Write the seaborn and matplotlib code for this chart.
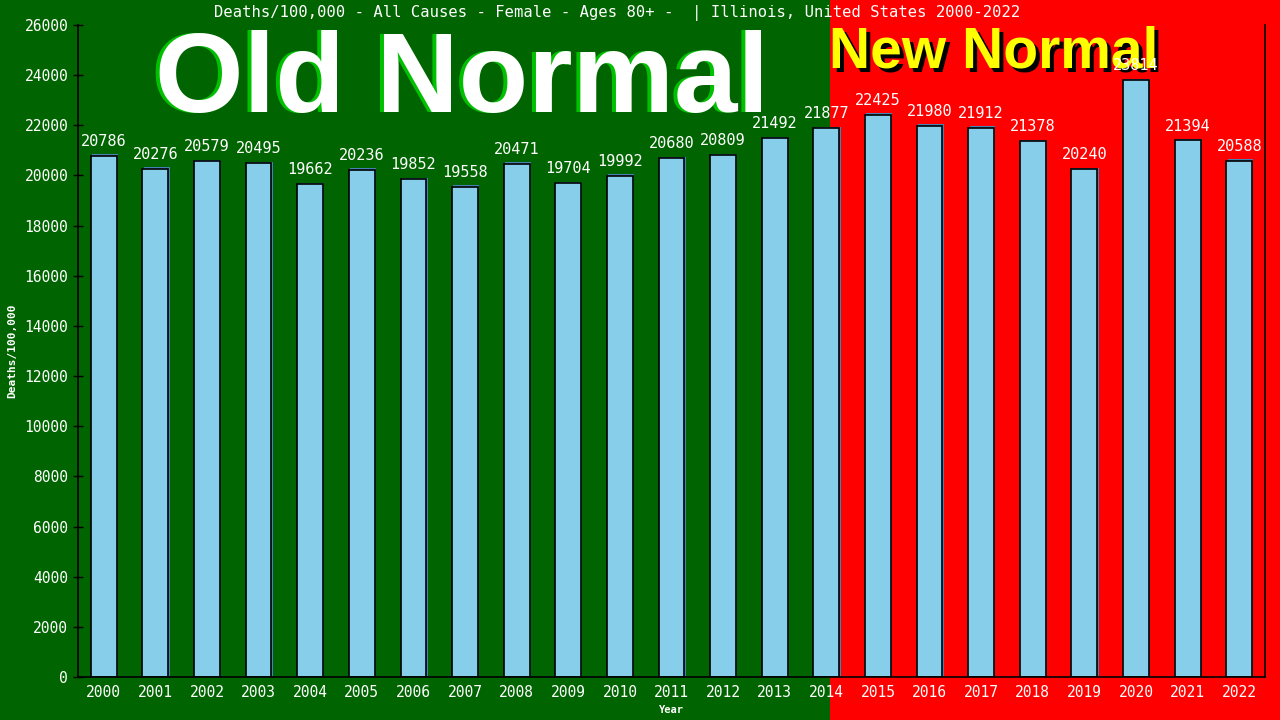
import pandas as pd
import matplotlib
matplotlib.use('Agg')
import matplotlib.pyplot as plt
import matplotlib.transforms as mtransforms
from matplotlib.patches import Rectangle
import seaborn as sns

# Chart data
years = [str(y) for y in range(2000, 2023)]
deaths = [20786, 20276, 20579, 20495, 19662, 20236, 19852, 19558, 20471, 19704,
          19992, 20680, 20809, 21492, 21877, 22425, 21980, 21912, 21378, 20240,
          23814, 21394, 20588]
y_ticks = list(range(0, 26001, 2000))

title = "Deaths/100,000 - All Causes - Female - Ages 80+ -  | Illinois, United States 2000-2022"

df = pd.DataFrame({'Year': years, 'Deaths': deaths})

sns.set_theme(style='white')
plt.rcParams['font.family'] = ['DejaVu Sans Mono']

GREEN = '#006400'
RED = '#ff0000'
BAR = '#87ceeb'

fig = plt.figure(figsize=(12.8, 7.2), dpi=100, facecolor=GREEN)
# red "new normal" background from the middle of 2014 to the right edge
fig.patches.append(Rectangle((0.6484, 0), 1 - 0.6484, 1, transform=fig.transFigure,
                             facecolor=RED, edgecolor='none', zorder=-10))

ax = fig.add_axes([0.0609, 0.0597, 0.9274, 0.9056])
ax.set_facecolor('none')

# thin blue shadow behind each bar, shifted 1px up-right
sns.barplot(data=df, x='Year', y='Deaths', color='#4682b4', width=0.5,
            saturation=1, edgecolor='none', ax=ax)
shift = mtransforms.offset_copy(ax.transData, fig=fig, x=1.3, y=1.3, units='dots')
for p in ax.patches:
    p.set_transform(shift)

sns.barplot(data=df, x='Year', y='Deaths', color=BAR, width=0.5,
            saturation=1, edgecolor='black', linewidth=1.2, ax=ax)
ax.bar_label(ax.containers[-1], fmt='%d', padding=5, color='white', fontsize=11)

ax.set_xlim(-0.5, len(years) - 0.5)
ax.set_ylim(0, 26000)
ax.set_yticks(y_ticks)
ax.tick_params(axis='y', direction='inout', length=7, width=1, color='black',
               labelcolor='white', labelsize=10.5, left=True)
ax.tick_params(axis='x', length=0, labelcolor='white', labelsize=10.5, pad=6)
for s in ['left', 'bottom', 'right']:
    ax.spines[s].set_visible(True)
    ax.spines[s].set_color('black')
    ax.spines[s].set_linewidth(1.2)
ax.spines['top'].set_visible(False)

ax.set_xlabel('Year', color='white', fontsize=7.5, fontweight='bold', labelpad=3)
ax.set_ylabel('Deaths/100,000', color='white', fontsize=8, fontweight='bold', labelpad=5)

fig.text(0.482, 0.982, title, ha='center', va='center', color='white', fontsize=11.2)

# big banner texts sit behind the axes so the value labels stay on top
# "Old Normal" with green drop shadow to the left
big = dict(ha='center', va='baseline', fontsize=82, fontweight='bold',
           family='Liberation Sans', zorder=-5)
sh = mtransforms.offset_copy(fig.transFigure, fig=fig, x=-4, y=0, units='dots')
fig.text(0.361, 0.845, 'Old Normal', color='#00c000', transform=sh, **big)
fig.text(0.361, 0.845, 'Old Normal', color='white', **big)

# "New Normal" with black drop shadow down-right
mid = dict(ha='center', va='baseline', fontsize=41, fontweight='bold',
           family='Liberation Sans', zorder=-5)
sh2 = mtransforms.offset_copy(fig.transFigure, fig=fig, x=4, y=-4, units='dots')
fig.text(0.776, 0.906, 'New Normal', color='black', transform=sh2, **mid)
fig.text(0.776, 0.906, 'New Normal', color='yellow', **mid)

fig.savefig('out.png', dpi=100, facecolor=fig.get_facecolor())
